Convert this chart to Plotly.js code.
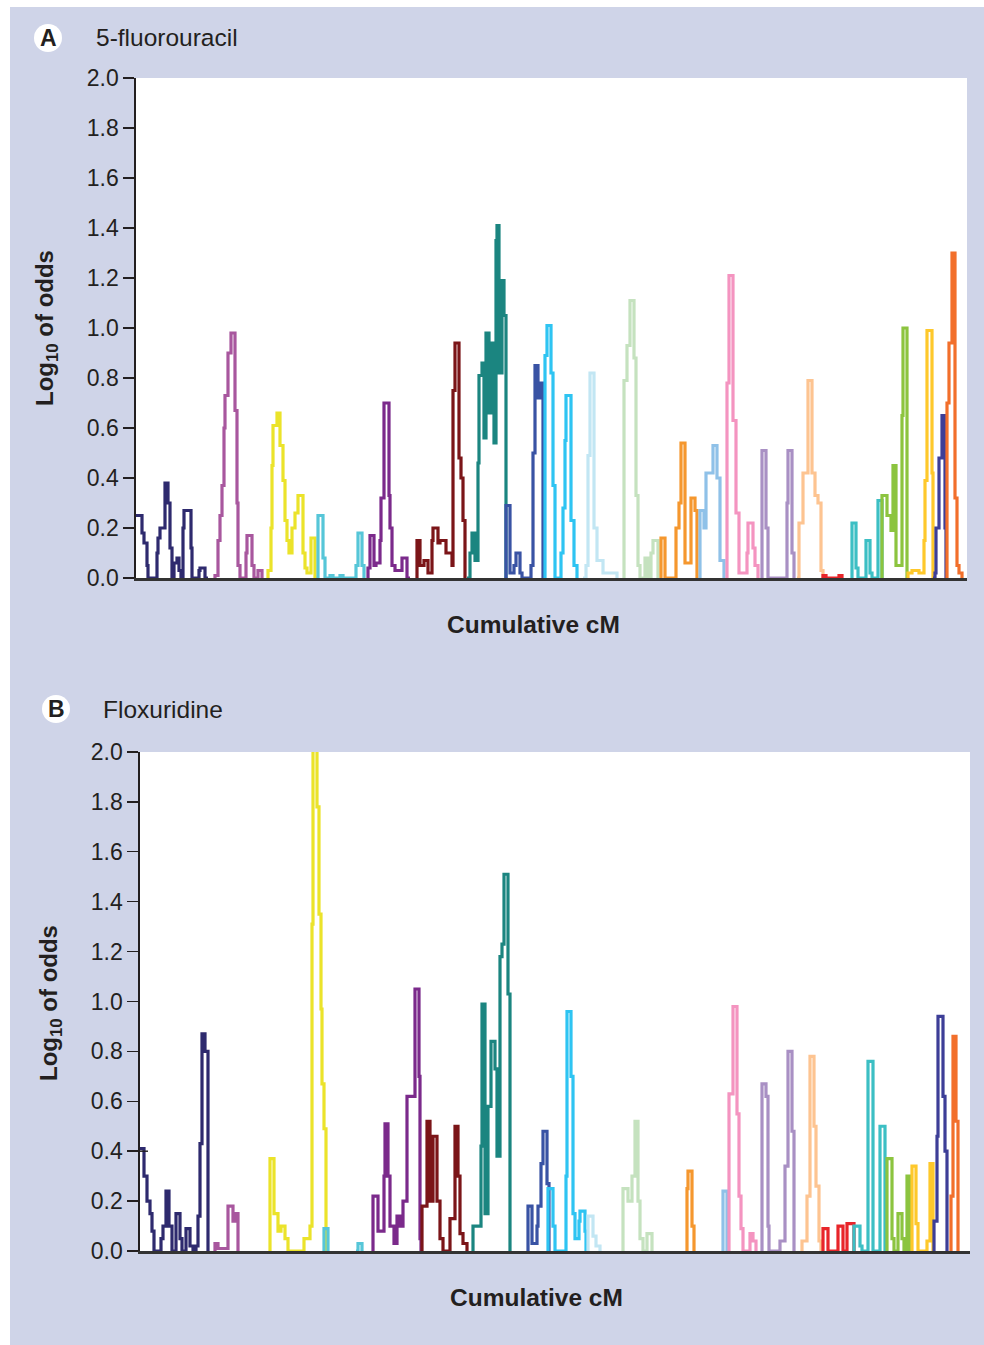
<!DOCTYPE html>
<html>
<head>
<meta charset="utf-8">
<script src="https://cdn.plot.ly/plotly-3.0.1.min.js"></script>
<style>
  html, body { margin: 0; padding: 0; background: #ffffff; }
  #chart { position: absolute; left: 10px; top: 7px; width: 974px; height: 1338px; }
</style>
</head>
<body>
<div id="chart"></div>
<script>
// ---------- DATA ----------
const chromosomes = ['1','2','3','4','5','6','7','8','9','10','11','12','13','14','15','16','17','18','19','20','21','22'];
const chromColors = ['#2e2a6e','#a8579e','#ebe32a','#56c6d8','#7b2a8b','#7b1518','#1b8580','#3953a4','#2ec4f2','#c2e6f3','#c5e2bf','#f5972e','#8fc1e8','#f494c0','#a990c4','#fdc491','#e8252a','#3cbfc4','#8cc43f','#fec82b','#3d3e97','#f26f2b'];
const yTicks = [0, 0.2, 0.4, 0.6, 0.8, 1.0, 1.2, 1.4, 1.6, 1.8, 2.0];

// Panel A: 5-fluorouracil (cumulative cM, log10 odds)
const fuPos = [
  [0,6,8,11,12,21,22,24,29,32,34,36,38,41,43,45,47,48,55,56,63,64,69,72],
  [78,79,82,84,86,88,89,92,95,99,101,102,104,110,111,116,118,122,126],
  [131,132,135,136,137,141,144,147,149,151,153,156,159,162,167,169,171,175,179,181],
  [181,182,187,189,194,197,204,207,220,222,226,228],
  [231,232,234,238,240,244,245,248,253,254,256,259,266,271,274],
  [280,281,284,288,292,296,297,302,304,310,316,317,319,323,325,327,329],
  [331,332,334,336,339,342,343,346,348,350,353,355,358,360,361,363,366,368,370],
  [369,370,374,378,380,384,386,395,397,399,402,405,407],
  [408,409,411,415,417,419,425,427,429,430,435,438,441],
  [447,450,452,454,458,461,467,481],
  [487,488,491,494,498,500,502,504,509,512,515,517,522],
  [524,525,529,540,543,545,549,555,559,561],
  [563,564,568,570,577,581,584,588],
  [590,591,593,597,600,603,611,612,617,619,622],
  [625,626,630,632,650,651,652,656,658],
  [661,663,667,672,676,679,682,685,687],
  [686,687,690,702,703,706],
  [715,716,720,722,729,730,734,736,741,742,746],
  [745,746,751,755,757,760,766,767,771],
  [771,772,776,783,788,789,791,796,797],
  [797,799,800,803,806,809,810],
  [810,811,813,816,819,821,823,826]
];
const fuLod = [
  [0.25,0.18,0.14,0.05,0,0.1,0.16,0.2,0.38,0.3,0.12,0,0.06,0.08,0.03,0,0.2,0.27,0.12,0,0.03,0.04,0,0],
  [0,0.01,0.15,0.25,0.37,0.6,0.73,0.9,0.98,0.67,0.3,0.05,0,0.1,0.17,0.05,0,0.03,0],
  [0,0.03,0.2,0.45,0.61,0.66,0.53,0.39,0.23,0.15,0.1,0.2,0.26,0.33,0.1,0.04,0.02,0.16,0,0],
  [0,0.25,0.08,0,0.01,0,0.01,0,0.05,0.18,0.05,0],
  [0,0.04,0.17,0.05,0.06,0.15,0.32,0.7,0.33,0.2,0.05,0.03,0.08,0,0],
  [0,0.15,0.05,0.07,0.02,0.15,0.2,0.14,0.15,0.1,0.05,0.75,0.94,0.48,0.4,0.23,0],
  [0,0,0.1,0.18,0.07,0.46,0.81,0.86,0.56,0.98,0.66,0.94,0.54,1.35,1.41,0.82,1.19,1.05,0],
  [0,0.29,0.02,0.05,0.1,0.02,0,0.05,0.5,0.85,0.72,0.78,0],
  [0,0.89,1.01,0.82,0.37,0,0.1,0.28,0.55,0.73,0.23,0.05,0],
  [0,0.05,0.49,0.82,0.2,0.07,0.02,0],
  [0,0.79,0.93,1.11,0.88,0.33,0.05,0,0.08,0,0.1,0.15,0],
  [0,0.16,0,0.2,0.3,0.54,0.06,0.32,0.27,0],
  [0,0.27,0.2,0.42,0.53,0.4,0.07,0],
  [0,0.78,1.21,0.63,0.26,0.02,0.1,0.22,0.12,0.05,0],
  [0,0.51,0.2,0,0,0.3,0.51,0.1,0],
  [0,0.22,0.42,0.79,0.42,0.33,0.3,0.03,0],
  [0,0.01,0,0,0.01,0],
  [0,0.22,0.04,0,0,0.15,0.02,0,0,0.31,0],
  [0,0.33,0.25,0.19,0.45,0.05,0.65,1.0,0],
  [0,0.02,0.03,0.02,0.15,0.39,0.99,0.42,0],
  [0,0.02,0.2,0.48,0.65,0.2,0],
  [0,0.7,0.94,1.3,0.32,0.05,0.02,0]
];

// Panel B: Floxuridine (cumulative cM, log10 odds); null = no marker coverage
const fdPos = [
  [0,4,7,10,12,14,21,23,26,29,32,36,40,42,46,50,53,56,58,60,62,65,68],
  [74,75,78,86,88,93,95,98],
  [129,130,134,138,141,145,148,163,164,170,172,173,177,179,181,182,184,186],
  [183,184,188,null,216,217,218,222],
  [232,233,238,244,245,248,250,254,257,260,263,267,271,275,279,280,281],
  [281,282,287,290,293,297,300,303,309,310,315,318,320,323,327],
  [332,333,339,341,342,345,348,351,355,357,360,362,364,368,370],
  [387,388,392,397,398,401,403,407,409],
  [407,408,413,415,425,426,427,431,433,435,439,440,445,446],
  [447,448,453,456,460],
  [482,483,488,492,495,498,500,503,506,507,512],
  [546,547,548,552,554],
  [582,583,587],
  [588,589,593,597,599,601,603,609,610,613,616],
  [621,622,626,628,629,639,640,645,648,652,654],
  [661,662,667,670,674,676,679,681],
  [682,683,688,697,698,703,706,707,712,714],
  [713,714,720,722,727,728,733,739,740,745],
  [746,747,752,754,757,758,762,764,766,767,770],
  [771,772,776,778,786,787,790,793],
  [793,794,797,798,803,805,807],
  [810,811,813,816,818]
];
const fdLod = [
  [0.41,0.3,0.2,0.15,0.08,0,0.05,0.1,0.24,0.1,0,0.15,0.05,0,0.09,0.02,0,0.02,0.14,0.43,0.87,0.8,0],
  [0,0.03,0.01,0.01,0.18,0.12,0.15,0],
  [0,0.37,0.15,0.08,0.1,0.05,0,0,0.05,0.1,1.31,2.1,1.78,1.35,0.97,0.67,0.49,0],
  [0,0.09,0,null,0,0,0.03,0],
  [0,0.22,0.08,0.3,0.51,0.3,0.1,0.03,0.14,0.1,0.2,0.62,0.62,1.05,0.7,0.05,0],
  [0,0.18,0.52,0.2,0.46,0.2,0.05,0,0,0.13,0.5,0.3,0.07,0.03,0],
  [0,0.1,0.1,0.42,0.99,0.15,0.58,0.84,0.73,0.38,1.18,1.23,1.51,1.03,0],
  [0,0.18,0.03,0.1,0.18,0.35,0.48,0.27,0],
  [0,0.25,0.1,0,0,0.3,0.96,0.7,0.15,0.05,0.12,0.16,0.08,0],
  [0,0.14,0.06,0.02,0],
  [0,0.25,0.2,0.3,0.52,0.2,0.05,0,0,0.07,0],
  [0,0.25,0.32,0.1,0],
  [0,0.24,0],
  [0,0.63,0.98,0.55,0.22,0.09,0,0,0.07,0.04,0],
  [0,0.67,0.62,0.1,0,0,0.04,0.34,0.8,0.48,0],
  [0,0.04,0.22,0.78,0.5,0.26,0.04,0],
  [0,0.09,0,0,0.1,0,0,0.11,0.11,0],
  [0,0.1,0.02,0,0,0.76,0,0,0.5,0],
  [0,0.37,0.05,0,0,0.15,0.05,0,0,0.3,0],
  [0,0.34,0.11,0,0,0.04,0.35,0],
  [0,0.12,0.46,0.94,0.62,0.4,0],
  [0,0.22,0.86,0.52,0]
];

// ---------- LAYOUT HELPERS (page pixel -> paper fraction) ----------
const W = 974, H = 1338, OX = 10, OY = 7;
const fx = p => (p - OX) / W;
const fy = p => 1 - (p - OY) / H;

const traces = [];
chromosomes.forEach((c, i) => {
  traces.push({
    x: fuPos[i], y: fuLod[i], xaxis: 'x', yaxis: 'y', type: 'scatter', mode: 'lines',
    line: { color: chromColors[i], width: 3.2, shape: 'hv' }, name: 'Chr ' + c, hoverinfo: 'skip'
  });
});
chromosomes.forEach((c, i) => {
  traces.push({
    x: fdPos[i], y: fdLod[i], xaxis: 'x2', yaxis: 'y2', type: 'scatter', mode: 'lines',
    line: { color: chromColors[i], width: 3.2, shape: 'hv' }, name: 'Chr ' + c, hoverinfo: 'skip',
    connectgaps: false
  });
});

const font = 'Liberation Sans, Arial, Helvetica, sans-serif';
const ink = '#231f20';
const yAxisBase = {
  range: [0, 2], tickvals: yTicks, tickformat: '.1f', ticks: 'outside', ticklen: 11, tickwidth: 1.4,
  tickcolor: ink, showline: true, linecolor: ink, linewidth: 1.6, showgrid: false, zeroline: false,
  tickfont: { family: font, size: 23, color: ink }, fixedrange: true
};
const xAxisBase = {
  showline: true, linecolor: '#333333', linewidth: 2.6, showgrid: false, zeroline: false,
  showticklabels: false, ticks: '', fixedrange: true
};

const layout = {
  width: W, height: H,
  margin: { l: 0, r: 0, t: 0, b: 0 },
  paper_bgcolor: '#cfd4e8', plot_bgcolor: '#ffffff',
  showlegend: false,
  xaxis: Object.assign({}, xAxisBase, { domain: [fx(136), fx(967)], range: [0, 831], anchor: 'y' }),
  yaxis: Object.assign({}, yAxisBase, { domain: [fy(578), fy(78)], anchor: 'x' }),
  xaxis2: Object.assign({}, xAxisBase, { domain: [fx(140), fx(970)], range: [0, 830], anchor: 'y2' }),
  yaxis2: Object.assign({}, yAxisBase, { domain: [fy(1251), fy(752)], anchor: 'x2' }),
  shapes: [
    { type: 'circle', xref: 'paper', yref: 'paper', x0: fx(34), x1: fx(62), y0: fy(52), y1: fy(24),
      fillcolor: '#ffffff', line: { width: 0 } },
    { type: 'circle', xref: 'paper', yref: 'paper', x0: fx(42), x1: fx(70), y0: fy(723), y1: fy(695),
      fillcolor: '#ffffff', line: { width: 0 } },
    { type: 'line', xref: 'x2', yref: 'y2', x0: 0, x1: 8, y0: 0.4, y1: 0.4, line: { color: ink, width: 1.4 } }
  ],
  annotations: [
    { xref: 'paper', yref: 'paper', x: fx(48), y: fy(38), text: '<b>A</b>', showarrow: false,
      font: { family: font, size: 23, color: ink }, xanchor: 'center', yanchor: 'middle' },
    { xref: 'paper', yref: 'paper', x: fx(94), y: fy(38), text: '5-fluorouracil', showarrow: false,
      font: { family: font, size: 24.5, color: ink }, xanchor: 'left', yanchor: 'middle' },
    { xref: 'paper', yref: 'paper', x: fx(56), y: fy(709), text: '<b>B</b>', showarrow: false,
      font: { family: font, size: 23, color: ink }, xanchor: 'center', yanchor: 'middle' },
    { xref: 'paper', yref: 'paper', x: fx(101), y: fy(709), text: 'Floxuridine', showarrow: false,
      font: { family: font, size: 24.5, color: ink }, xanchor: 'left', yanchor: 'middle' },
    { xref: 'paper', yref: 'paper', x: fx(46), y: fy(328), text: '<b>Log<sub>10</sub> of odds</b>', showarrow: false,
      textangle: -90, font: { family: font, size: 24, color: ink }, xanchor: 'center', yanchor: 'middle' },
    { xref: 'paper', yref: 'paper', x: fx(50), y: fy(1003), text: '<b>Log<sub>10</sub> of odds</b>', showarrow: false,
      textangle: -90, font: { family: font, size: 24, color: ink }, xanchor: 'center', yanchor: 'middle' },
    { xref: 'paper', yref: 'paper', x: fx(533), y: fy(624), text: '<b>Cumulative cM</b>', showarrow: false,
      font: { family: font, size: 24.5, color: ink }, xanchor: 'center', yanchor: 'middle' },
    { xref: 'paper', yref: 'paper', x: fx(536), y: fy(1297), text: '<b>Cumulative cM</b>', showarrow: false,
      font: { family: font, size: 24.5, color: ink }, xanchor: 'center', yanchor: 'middle' }
  ]
};

Plotly.newPlot('chart', traces, layout, { staticPlot: true, displayModeBar: false });
</script>
</body>
</html>
